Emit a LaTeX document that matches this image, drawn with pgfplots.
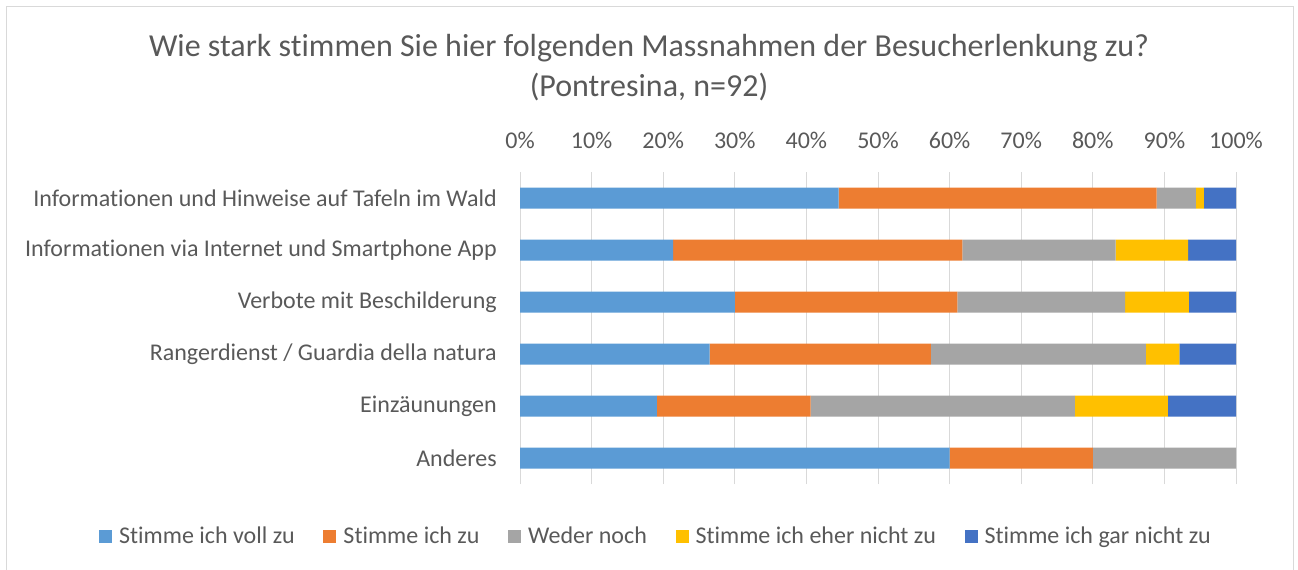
\documentclass[border=0pt]{standalone}
\usepackage{fontspec}
\setmainfont{Carlito}[Ligatures=NoCommon]
\usepackage{pgfplots}
\pgfplotsset{compat=1.18}
\usepackage{pgfplotstable}
\definecolor{cA}{HTML}{5B9BD5}
\definecolor{cB}{HTML}{ED7D31}
\definecolor{cC}{HTML}{A5A5A5}
\definecolor{cD}{HTML}{FFC000}
\definecolor{cE}{HTML}{4472C4}
\definecolor{txt}{HTML}{595959}
\definecolor{grd}{HTML}{D9D9D9}
\pgfplotstableread{
y a b c d e
5 44.5 44.4 5.5 1.1 4.5
4 21.4 40.4 21.4 10.1 6.7
3 30.0 31.1 23.4 8.9 6.6
2 26.5 30.9 30.0 4.7 7.9
1 19.1 21.5 36.9 13.0 9.5
0 60.0 20.0 20.0 0.0 0.0
}\data
\begin{document}
\begin{tikzpicture}
\useasboundingbox (0,0) rectangle (973.5pt,-427.5pt);
\draw[grd, line width=0.75pt] (4.5pt,-440pt) -- (4.5pt,-5.25pt) -- (969.75pt,-5.25pt) -- (969.75pt,-440pt);
\node[txt, font=\fontsize{24}{30}\selectfont, align=center] at (486.75pt,-51pt) {Wie stark stimmen Sie hier folgenden Massnahmen der Besucherlenkung zu?\\(Pontresina, n=92)};
\begin{axis}[
  at={(390pt,-129pt)}, anchor=north west,
  scale only axis, width=537pt, height=234pt,
  xbar stacked, bar width=15.75pt,
  xmin=0, xmax=100, ymin=-0.5, ymax=5.5,
  ytick={0,1,2,3,4,5},
  yticklabels={Anderes, Einzäunungen, Rangerdienst / Guardia della natura, Verbote mit Beschilderung, Informationen via Internet und Smartphone App, Informationen und Hinweise auf Tafeln im Wald},
  xtick={0,10,...,100},
  xticklabel={\pgfmathprintnumber{\tick}\%},
  /pgf/number format/assume math mode=true,
  xticklabel pos=upper,
  xmajorgrids,
  grid style={grd, line width=0.75pt},
  axis line style={draw=none},
  major tick length=0pt,
  tick label style={font=\fontsize{18}{22}\selectfont, text=txt},
  yticklabel style={inner sep=0pt, xshift=-17.25pt},
  xticklabel style={anchor=base, inner sep=0pt, yshift=18pt},
  legend style={at={(0.1885,-0.1667)}, anchor=center, draw=none, fill=none,
    legend columns=5, font=\fontsize{18}{22}\selectfont, text=txt,
    nodes={inner sep=0pt},
    /tikz/every odd column/.append style={column sep=5.25pt},
    /tikz/every even column/.append style={column sep=21.5pt}},
]
\pgfplotsset{sq/.style={legend image code/.code={\fill[##1] (0pt,-4.875pt) rectangle (9.75pt,4.875pt);}}}
\addplot[fill=cA, draw=none, sq] table[x=a, y=y] {\data};
\addplot[fill=cB, draw=none, sq] table[x=b, y=y] {\data};
\addplot[fill=cC, draw=none, sq] table[x=c, y=y] {\data};
\addplot[fill=cD, draw=none, sq] table[x=d, y=y] {\data};
\addplot[fill=cE, draw=none, sq] table[x=e, y=y] {\data};
\legend{Stimme ich voll zu, Stimme ich zu, Weder noch, Stimme ich eher nicht zu, Stimme ich gar nicht zu}
\end{axis}
\end{tikzpicture}
\end{document}
